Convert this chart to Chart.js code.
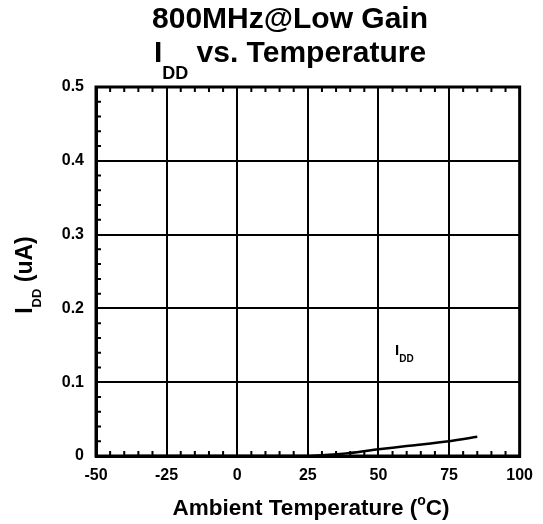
<!DOCTYPE html>
<html>
<head>
<meta charset="utf-8">
<script src="https://cdn.jsdelivr.net/npm/chart.js@4"></script>
<style>
  html, body { margin: 0; padding: 0; background: #fff; }
  #wrap { width: 543px; height: 524px; position: relative; }
</style>
</head>
<body>
<div id="wrap"><canvas id="iddChart"></canvas></div>
<script>
// chart values
const temps = [-40, -25, 0, 25, 30, 40, 50, 60, 75, 85];
const iddValues = [0, 0, 0, 0, 0.001, 0.004, 0.009, 0.0135, 0.02, 0.026];
const xTicks = [-50, -25, 0, 25, 50, 75, 100];
const yTicks = [0, 0.1, 0.2, 0.3, 0.4, 0.5];

const FONT = '"Liberation Sans", Arial, sans-serif';

// draw a run of text pieces: [text, size, dy]
function drawRuns(ctx, runs, x, y, align) {
    let total = 0;
    runs.forEach(r => {
        ctx.font = 'bold ' + r[1] + 'px ' + FONT;
        r.w = ctx.measureText(r[0]).width;
        total += r.w;
    });
    let cx = align === 'center' ? x - total / 2 : x;
    ctx.textAlign = 'left';
    ctx.textBaseline = 'alphabetic';
    runs.forEach(r => {
        ctx.font = 'bold ' + r[1] + 'px ' + FONT;
        ctx.fillText(r[0], cx, y + r[2]);
        cx += r.w;
    });
}

const decorPlugin = {
    id: 'decor',
    afterDraw(chart) {
        const ctx = chart.ctx;
        const area = chart.chartArea;
        const xs = chart.scales.x;
        const ys = chart.scales.y;
        ctx.save();
        ctx.fillStyle = '#000';
        ctx.strokeStyle = '#000';

        // minor ticks
        ctx.lineWidth = 2;
        ctx.beginPath();
        for (let t = -50; t <= 100; t += 5) {
            if (t % 25 === 0) continue;
            const px = xs.getPixelForValue(t);
            ctx.moveTo(px, area.bottom);
            ctx.lineTo(px, area.bottom - 5);
            ctx.moveTo(px, area.top);
            ctx.lineTo(px, area.top + 5);
        }
        for (let i = 0; i <= 25; i++) {
            if (i % 5 === 0) continue;
            const py = ys.getPixelForValue(i * 0.02);
            ctx.moveTo(area.left, py);
            ctx.lineTo(area.left + 5, py);
        }
        ctx.stroke();

        // frame
        ctx.lineWidth = 3;
        ctx.strokeRect(area.left, area.top, area.right - area.left, area.bottom - area.top);

        // titles
        drawRuns(ctx, [['800MHz@Low Gain', 30, 0]], 290, 28, 'center');
        drawRuns(ctx, [['I', 30, 0], ['DD', 18, 17], [' vs. Temperature', 30, 0]], 290, 62, 'center');

        // x axis title
        drawRuns(ctx, [['Ambient Temperature (', 22.5, 0], ['o', 14, -10], ['C)', 22.5, 0]], 311, 515, 'center');

        // y axis title
        ctx.save();
        ctx.translate(32, 275);
        ctx.rotate(-Math.PI / 2);
        drawRuns(ctx, [['I', 23, 0], ['DD', 13, 9], [' (uA)', 23, 0]], 0, 0, 'center');
        ctx.restore();

        // curve label
        drawRuns(ctx, [['I', 15, 0], ['DD', 10, 7]], 395, 355, 'left');

        ctx.restore();
    }
};

const ctx = document.getElementById('iddChart').getContext('2d');
new Chart(ctx, {
    type: 'line',
    data: {
        datasets: [{
            label: 'IDD',
            data: temps.map((t, i) => ({ x: t, y: iddValues[i] })),
            borderColor: '#000',
            borderWidth: 2.5,
            pointRadius: 0,
            tension: 0.3,
            fill: false
        }]
    },
    options: {
        responsive: true,
        maintainAspectRatio: false,
        animation: false,
        layout: { padding: { top: 87, right: 20, left: 0, bottom: 0 } },
        plugins: {
            legend: { display: false },
            tooltip: { enabled: false }
        },
        scales: {
            x: {
                type: 'linear',
                min: -50,
                max: 100,
                afterBuildTicks: s => { s.ticks = xTicks.map(v => ({ value: v })); },
                afterFit: s => { s.height = 68; },
                ticks: {
                    color: '#000',
                    padding: 10,
                    font: { family: FONT, size: 16, weight: 'bold' }
                },
                grid: { color: '#000', lineWidth: 2, drawTicks: false },
                border: { color: '#000', width: 3 }
            },
            y: {
                min: 0,
                max: 0.5,
                afterBuildTicks: s => { s.ticks = yTicks.map(v => ({ value: v })); },
                afterFit: s => { s.width = 96; },
                ticks: {
                    color: '#000',
                    padding: 12,
                    font: { family: FONT, size: 16, weight: 'bold' },
                    callback: v => String(Math.round(v * 10) / 10)
                },
                grid: { color: '#000', lineWidth: 2, drawTicks: false },
                border: { color: '#000', width: 3 }
            }
        }
    },
    plugins: [decorPlugin]
});
</script>
</body>
</html>
